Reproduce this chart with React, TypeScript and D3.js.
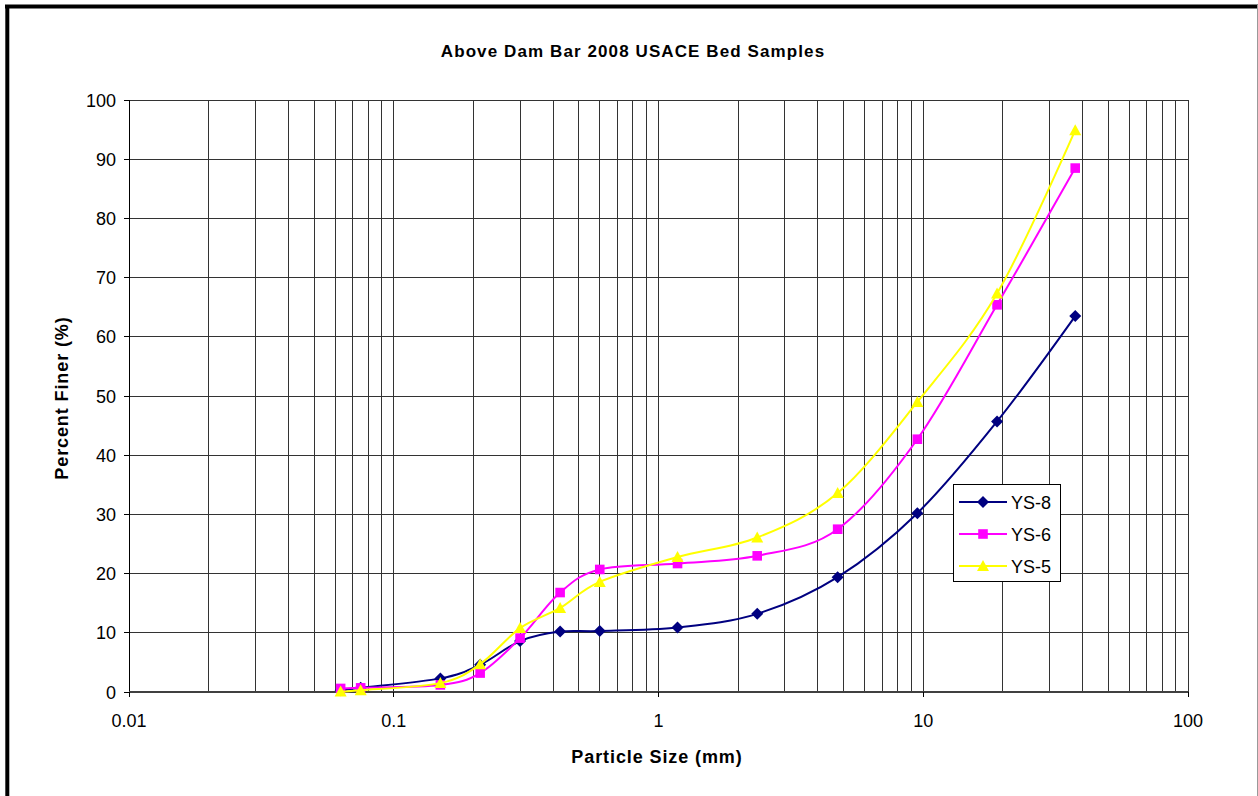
import React from "react";
import * as d3 from "d3";

// sieve sizes (mm) and percent finer per sample
const sizes = [0.063, 0.075, 0.15, 0.212, 0.3, 0.425, 0.6, 1.18, 2.36, 4.75, 9.5, 19, 37.5];
const ys8 = [0.3, 0.7, 2.3, 4.6, 8.6, 10.2, 10.3, 10.9, 13.2, 19.4, 30.2, 45.7, 63.5];
const ys6 = [0.6, 0.7, 1.2, 3.2, 9.1, 16.8, 20.7, 21.7, 23.0, 27.5, 42.7, 65.4, 88.5];
const ys5 = [0.1, 0.3, 1.5, 4.7, 10.8, 14.2, 18.6, 22.8, 26.1, 33.6, 49.0, 67.3, 94.9];

const seriesNames = ["YS-8", "YS-6", "YS-5"];
const seriesColors = ["#000080", "#FF00FF", "#FFFF00"];
const seriesShapes = ["diamond", "square", "triangle"];

const xTickLabels = ["0.01", "0.1", "1", "10", "100"];
const yTicks = [0, 10, 20, 30, 40, 50, 60, 70, 80, 90, 100];

const title = "Above Dam Bar 2008 USACE Bed Samples";
const xTitle = "Particle Size (mm)";
const yTitle = "Percent Finer (%)";

const font = "'Liberation Sans', Arial, sans-serif";

function markerPath(shape: string, cx: number, cy: number) {
    if (shape === "diamond") {
        const r = 6;
        return `M${cx},${cy - r}L${cx + r},${cy}L${cx},${cy + r}L${cx - r},${cy}Z`;
    }
    if (shape === "square") {
        const r = 4.8;
        return `M${cx - r},${cy - r}H${cx + r}V${cy + r}H${cx - r}Z`;
    }
    const h = 10;
    const w = 6;
    return `M${cx},${cy - h / 2 - 1}L${cx + w},${cy + h / 2}L${cx - w},${cy + h / 2}Z`;
}

export default function App() {
    const width = 1258;
    const height = 796;
    const marginLeft = 129;
    const marginRight = 70;
    const marginTop = 100;
    const marginBottom = 104;

    const x = d3
        .scaleLog()
        .domain([0.01, 100])
        .range([marginLeft, width - marginRight]);
    const y = d3
        .scaleLinear()
        .domain([0, 100])
        .range([height - marginBottom, marginTop]);

    const data = [ys8, ys6, ys5];

    const line = d3
        .line<[number, number]>()
        .x((d) => x(d[0]))
        .y((d) => y(d[1]))
        .curve(d3.curveCardinal.tension(0));

    // minor log grid: 1..9 in each decade
    const gridX: number[] = [];
    for (let e = -2; e < 2; e++) {
        for (let m = 1; m < 10; m++) gridX.push(m * Math.pow(10, e));
    }
    gridX.push(100);
    const decades = xTickLabels.map((t) => +t);

    const legendX = 953;
    const legendY = 484;

    return (
        <svg
            width={width}
            height={height}
            style={{ position: "absolute", left: 0, top: 0, background: "#fff" }}
            fontFamily={font}
        >
            {/* chart frame */}
            <rect x={0} y={0} width={width} height={height} fill="#fff" />
            <line x1={5} x2={width} y1={6.5} y2={6.5} stroke="#000" strokeWidth={4} />
            <line x1={7.3} x2={7.3} y1={5} y2={height} stroke="#000" strokeWidth={4} />
            <line x1={width - 0.5} x2={width - 0.5} y1={5} y2={height} stroke="#999" strokeWidth={1} />

            <text
                x={633}
                y={57}
                textAnchor="middle"
                fontSize={17}
                fontWeight="bold"
                letterSpacing={1.1}
            >
                {title}
            </text>

            {/* gridlines */}
            <g stroke="#333" strokeWidth={1} shapeRendering="crispEdges">
                {gridX.map((v, i) => (
                    <line key={"gx" + i} x1={x(v)} x2={x(v)} y1={y(0)} y2={y(100)} />
                ))}
                {yTicks.map((v) => (
                    <line key={"gy" + v} x1={x(0.01)} x2={x(100)} y1={y(v)} y2={y(v)} />
                ))}
            </g>

            {/* axes */}
            <g stroke="#000" strokeWidth={1} shapeRendering="crispEdges">
                <line x1={x(0.01)} x2={x(0.01)} y1={y(0)} y2={y(100)} />
                <line x1={x(0.01)} x2={x(100)} y1={y(0)} y2={y(0)} stroke="#404040" strokeWidth={2} />
                {yTicks.map((v) => (
                    <line key={"ty" + v} x1={x(0.01) - 5} x2={x(0.01)} y1={y(v)} y2={y(v)} />
                ))}
                {decades.map((v) => (
                    <line key={"tx" + v} x1={x(v)} x2={x(v)} y1={y(0)} y2={y(0) + 5} />
                ))}
            </g>

            <g fontSize={18} fill="#000">
                {yTicks.map((v) => (
                    <text key={"ly" + v} x={x(0.01) - 13} y={y(v) + 6.5} textAnchor="end">
                        {v}
                    </text>
                ))}
                {xTickLabels.map((t) => (
                    <text key={"lx" + t} x={x(+t)} y={y(0) + 35} textAnchor="middle">
                        {t}
                    </text>
                ))}
            </g>

            <text
                x={657}
                y={763}
                textAnchor="middle"
                fontSize={18}
                fontWeight="bold"
                letterSpacing={0.9}
            >
                {xTitle}
            </text>
            <text
                transform={`translate(68,398) rotate(-90)`}
                textAnchor="middle"
                fontSize={18}
                fontWeight="bold"
                letterSpacing={0.9}
            >
                {yTitle}
            </text>

            {/* series */}
            {data.map((vals, si) => {
                const pts = sizes.map((s, i) => [s, vals[i]] as [number, number]);
                return (
                    <g key={seriesNames[si]}>
                        <path
                            d={line(pts) || ""}
                            fill="none"
                            stroke={seriesColors[si]}
                            strokeWidth={2}
                        />
                        {pts.map((p, i) => (
                            <path
                                key={i}
                                d={markerPath(seriesShapes[si], x(p[0]), y(p[1]))}
                                fill={seriesColors[si]}
                            />
                        ))}
                    </g>
                );
            })}

            {/* legend */}
            <g>
                <rect
                    x={legendX + 0.5}
                    y={legendY + 0.5}
                    width={107}
                    height={97}
                    fill="#fff"
                    stroke="#000"
                    strokeWidth={1}
                />
                {seriesNames.map((n, i) => {
                    const cy = legendY + 18 + i * 32;
                    return (
                        <g key={n}>
                            <line
                                x1={legendX + 6}
                                x2={legendX + 54}
                                y1={cy}
                                y2={cy}
                                stroke={seriesColors[i]}
                                strokeWidth={2}
                            />
                            <path d={markerPath(seriesShapes[i], legendX + 30, cy)} fill={seriesColors[i]} />
                            <text x={legendX + 58} y={cy + 7} fontSize={18}>
                                {n}
                            </text>
                        </g>
                    );
                })}
            </g>
        </svg>
    );
}
